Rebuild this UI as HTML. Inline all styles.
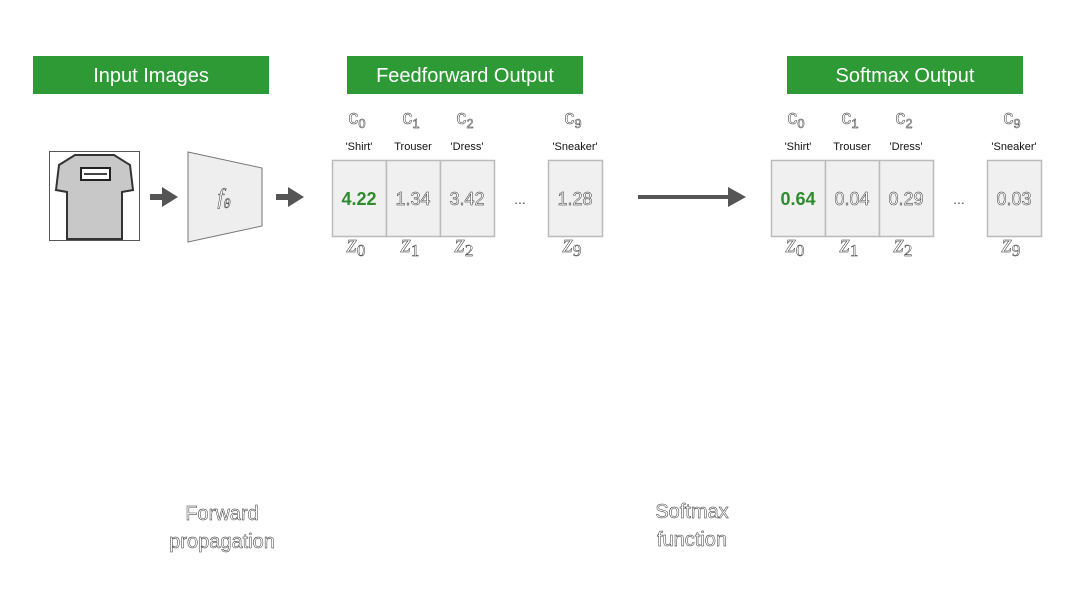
<!DOCTYPE html>
<html><head><meta charset="utf-8"><style>
body{margin:0;background:#fff;width:1080px;height:608px;overflow:hidden}
svg text{font-family:"Liberation Sans",sans-serif}
.o{fill:#fff;stroke:#222;stroke-width:0.45px}
.m{font-family:"Liberation Serif",serif;font-style:italic}
</style></head><body>
<svg width="1080" height="608" viewBox="0 0 1080 608">
<g><rect x="33" y="56" width="236" height="38" fill="#2e9a35"/><text x="151" y="82" fill="#fff" font-size="20" text-anchor="middle">Input Images</text></g>
<g><rect x="347" y="56" width="236" height="38" fill="#2e9a35"/><text x="465" y="82" fill="#fff" font-size="20" text-anchor="middle">Feedforward Output</text></g>
<g><rect x="787" y="56" width="236" height="38" fill="#2e9a35"/><text x="905" y="82" fill="#fff" font-size="20" text-anchor="middle">Softmax Output</text></g>

<g>
<rect x="49.5" y="151.5" width="90" height="89" fill="#fff" stroke="#555"/>
<path d="M75 155 L114 155 L130 165 L133 190 L122 192 L122 239 L67 239 L67 192 L56 190 L59 165 Z" fill="#c8c8c8" stroke="#333" stroke-width="2"/>
<rect x="81" y="168" width="29" height="12" fill="#fff" stroke="#222" stroke-width="2"/>
<line x1="84" y1="174" x2="107" y2="174" stroke="#444" stroke-width="2"/>
</g>
<g><rect x="150" y="194" width="12" height="6" fill="#555"/><polygon points="162,187 178,197 162,207" fill="#555"/></g>
<g><polygon points="188,152 262,168 262,226 188,242" fill="#eee" stroke="#777"/><text x="224" y="204" class="m o" font-size="22" text-anchor="middle">f<tspan font-size="14" dy="4">θ</tspan></text></g>
<g><rect x="276" y="194" width="12" height="6" fill="#555"/><polygon points="288,187 304,197 288,207" fill="#555"/></g>
<g><rect x="638" y="195" width="92" height="4" fill="#555"/><polygon points="728,187 746,197 728,207" fill="#555"/></g>
<g><text x="692" y="518" class="o" font-size="20" text-anchor="middle">Softmax</text><text x="692" y="546" class="o" font-size="20" text-anchor="middle">function</text></g>
<g><text x="222" y="520" class="o" font-size="20" text-anchor="middle">Forward</text><text x="222" y="548" class="o" font-size="20" text-anchor="middle">propagation</text></g>
<g id="cells"></g>
</svg>
<script>
const classes=["'Shirt'","Trouser","'Dress'","'Sneaker'"];
const cIdx=["0","1","2","9"];
const logits=["4.22","1.34","3.42","1.28"];
const probs=["0.64","0.04","0.29","0.03"];
const NS="http://www.w3.org/2000/svg";
const g=document.getElementById('cells');
function t(x,y,s,size,cls,fill,parent){const e=document.createElementNS(NS,'text');e.setAttribute('x',x);e.setAttribute('y',y);e.setAttribute('font-size',size);e.setAttribute('text-anchor','middle');if(cls)e.setAttribute('class',cls);if(fill)e.setAttribute('fill',fill);e.textContent=s;parent.appendChild(e);return e;}
function group(x0,vals,name){
  const xs=[x0,x0+54,x0+108,x0+216];
  vals.forEach((v,i)=>{
    const c=document.createElementNS(NS,'g');
    
    
    const r=document.createElementNS(NS,'rect');
    r.setAttribute('x',xs[i]+0.5);r.setAttribute('y',160.5);r.setAttribute('width',54);r.setAttribute('height',76);
    r.setAttribute('fill','#f0f0f0');r.setAttribute('stroke','#bbb');r.setAttribute('stroke-width','1.5');
    c.appendChild(r);
    const cx=xs[i]+27;
    const ct=t(cx-2,124,'c',20,'o',null,c);
    const sub=document.createElementNS(NS,'tspan');sub.setAttribute('font-size','13');sub.setAttribute('dy','4');sub.textContent=cIdx[i];ct.appendChild(sub);
    t(cx,150,classes[i],11,null,'#111',c);
    if(i===0){const e=t(cx,205,v,18,null,'#2e8b2e',c);e.setAttribute('font-weight','bold');}
    else t(cx,205,v,18,'o',null,c);
    const zt=t(cx-3,252,'z',26,'m o',null,c);
    const zs=document.createElementNS(NS,'tspan');zs.setAttribute('font-size','17');zs.setAttribute('dy','4');zs.setAttribute('font-style','normal');zs.textContent=cIdx[i];zt.appendChild(zs);
    g.appendChild(c);
  });
  const d=t(x0+188,204,'...',14,null,'#555',g);
  
  
}
group(332,logits,'logit');
group(771,probs,'prob');
</script>
</body></html>
